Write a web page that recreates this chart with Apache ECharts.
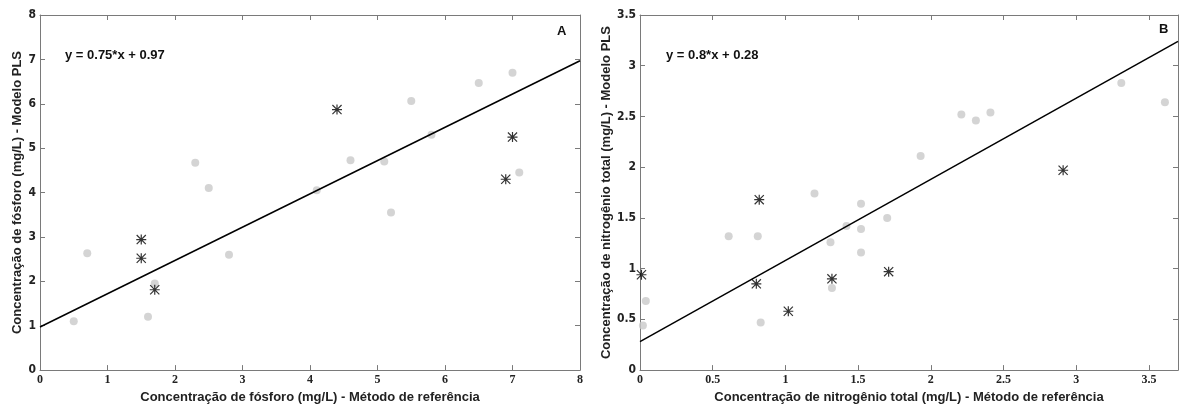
<!DOCTYPE html>
<html>
<head>
<meta charset="utf-8">
<script src="https://cdn.jsdelivr.net/npm/echarts@6/dist/echarts.min.js"></script>
<style>
  html, body { margin: 0; padding: 0; background: #fff; }
  #chart { width: 1181px; height: 409px; }
</style>
</head>
<body>
<div id="chart"></div>
<script>
// painel A - fósforo
const phosCircles = [
  [0.5, 1.1], [0.7, 2.63], [1.6, 1.2], [1.7, 1.95], [2.3, 4.67], [2.5, 4.1],
  [2.8, 2.6], [4.1, 4.05], [4.6, 4.73], [5.1, 4.7], [5.2, 3.55], [5.5, 6.06],
  [5.8, 5.3], [6.5, 6.47], [7.0, 6.7], [7.1, 4.45]
];
const phosStars = [[1.5, 2.94], [1.5, 2.52], [1.7, 1.81], [4.4, 5.87], [6.9, 4.3], [7.0, 5.25]];
const phosFit = [[0, 0.97], [8, 6.97]];

// painel B - nitrogênio
const nitroCircles = [
  [0.04, 0.68], [0.02, 0.44], [0.61, 1.32], [0.81, 1.32], [0.83, 0.47], [1.2, 1.74],
  [1.31, 1.26], [1.32, 0.81], [1.42, 1.42], [1.52, 1.64], [1.52, 1.39], [1.52, 1.16],
  [1.7, 1.5], [1.93, 2.11], [2.21, 2.52], [2.31, 2.46], [2.41, 2.54], [3.31, 2.83], [3.61, 2.64]
];
const nitroStars = [[0.01, 0.94], [0.82, 1.68], [0.8, 0.85], [1.02, 0.58], [1.32, 0.9], [1.71, 0.97], [2.91, 1.97]];
const nitroFit = [[0, 0.28], [3.7, 3.24]];

const labelsA = { x: 'Concentração de fósforo (mg/L) - Método de referência', y: 'Concentração de fósforo (mg/L) - Modelo PLS', eq: 'y = 0.75*x + 0.97', tag: 'A' };
const labelsB = { x: 'Concentração de nitrogênio total (mg/L) - Método de referência', y: 'Concentração de nitrogênio total (mg/L) - Modelo PLS', eq: 'y = 0.8*x + 0.28', tag: 'B' };

// asterisco de 8 pontas
const starPath = 'path://M8.8 0H11.2V20H8.8Z M0 8.8H20V11.2H0Z M1.7 0L20 18.3L18.3 20L0 1.7Z M18.3 0L20 1.7L1.7 20L0 18.3Z';

const axisGray = '#7a7a7a';
const sansBold = { fontFamily: 'Liberation Sans, Arial, sans-serif', fontWeight: 'bold' };

function xAxisPair(grid, max, interval, name) {
  const fmt = v => (Math.abs(v / interval - Math.round(v / interval)) < 1e-6 ? String(+v.toFixed(2)) : '');
  return [
    {
      gridIndex: grid, type: 'value', min: 0, max: max, interval: interval, position: 'bottom',
      name: name, nameLocation: 'middle', nameGap: 17,
      nameTextStyle: Object.assign({ fontSize: 13, color: '#222' }, sansBold),
      axisLine: { show: true, lineStyle: { color: axisGray, width: 1 } },
      axisTick: { show: true, inside: true, length: 5, lineStyle: { color: axisGray } },
      axisLabel: { margin: 4, color: '#222', fontSize: 12, fontWeight: 'bold', fontFamily: 'Liberation Serif, serif', formatter: fmt },
      splitLine: { show: false }
    },
    {
      gridIndex: grid, type: 'value', min: 0, max: max, interval: interval, position: 'top',
      axisLine: { show: true, onZero: false, lineStyle: { color: axisGray, width: 1 } },
      axisTick: { show: true, inside: true, length: 5, lineStyle: { color: axisGray } },
      axisLabel: { show: false },
      splitLine: { show: false }
    }
  ];
}

function yAxisPair(grid, max, interval, name) {
  return [
    {
      gridIndex: grid, type: 'value', min: 0, max: max, interval: interval, position: 'left',
      name: name, nameLocation: 'middle', nameGap: 16,
      nameTextStyle: Object.assign({ fontSize: 13, color: '#222' }, sansBold),
      axisLine: { show: true, lineStyle: { color: axisGray, width: 1 } },
      axisTick: { show: true, inside: true, length: 5, lineStyle: { color: axisGray } },
      axisLabel: { margin: 4, color: '#222', fontSize: 12, fontWeight: 'bold', fontFamily: 'Liberation Sans Narrow, DejaVu Sans Condensed, sans-serif' },
      splitLine: { show: false }
    },
    {
      gridIndex: grid, type: 'value', min: 0, max: max, interval: interval, position: 'right',
      axisLine: { show: true, onZero: false, lineStyle: { color: axisGray, width: 1 } },
      axisTick: { show: true, inside: true, length: 5, lineStyle: { color: axisGray } },
      axisLabel: { show: false },
      splitLine: { show: false }
    }
  ];
}

function panelSeries(ax, circles, stars, fit) {
  return [
    {
      type: 'scatter', xAxisIndex: ax, yAxisIndex: ax, data: circles,
      symbol: 'circle', symbolSize: 8, itemStyle: { color: '#c9c9c9' }, z: 2
    },
    {
      type: 'scatter', xAxisIndex: ax, yAxisIndex: ax, data: stars,
      symbol: starPath, symbolSize: 10, itemStyle: { color: '#000' }, z: 3
    },
    {
      type: 'line', xAxisIndex: ax, yAxisIndex: ax, data: fit,
      showSymbol: false, lineStyle: { color: '#000', width: 1.5 }, z: 4
    }
  ];
}

let myChart = echarts.init(document.getElementById('chart'));
myChart.setOption({
  animation: false,
  backgroundColor: '#fff',
  grid: [
    { left: 40, top: 15, width: 540, height: 361 },
    { left: 640, top: 15, width: 538, height: 361 }
  ],
  xAxis: [].concat(xAxisPair(0, 8, 1, labelsA.x), xAxisPair(1, 3.7, 0.5, labelsB.x)),
  yAxis: [].concat(yAxisPair(0, 8, 1, labelsA.y), yAxisPair(1, 3.5, 0.5, labelsB.y)),
  series: [].concat(
    panelSeries(0, phosCircles, phosStars, phosFit),
    panelSeries(2, nitroCircles, nitroStars, nitroFit)
  ),
  graphic: [
    { type: 'text', left: 65, top: 49, style: { text: labelsA.eq, fontSize: 13, fontWeight: 'bold', fontFamily: 'Liberation Sans, sans-serif', fill: '#111' } },
    { type: 'text', left: 666, top: 49, style: { text: labelsB.eq, fontSize: 13, fontWeight: 'bold', fontFamily: 'Liberation Sans, sans-serif', fill: '#111' } },
    { type: 'text', left: 557, top: 25, style: { text: labelsA.tag, fontSize: 13, fontWeight: 'bold', fontFamily: 'Liberation Sans, sans-serif', fill: '#111' } },
    { type: 'text', left: 1159, top: 23, style: { text: labelsB.tag, fontSize: 13, fontWeight: 'bold', fontFamily: 'Liberation Sans, sans-serif', fill: '#111' } }
  ]
});
</script>
</body>
</html>
